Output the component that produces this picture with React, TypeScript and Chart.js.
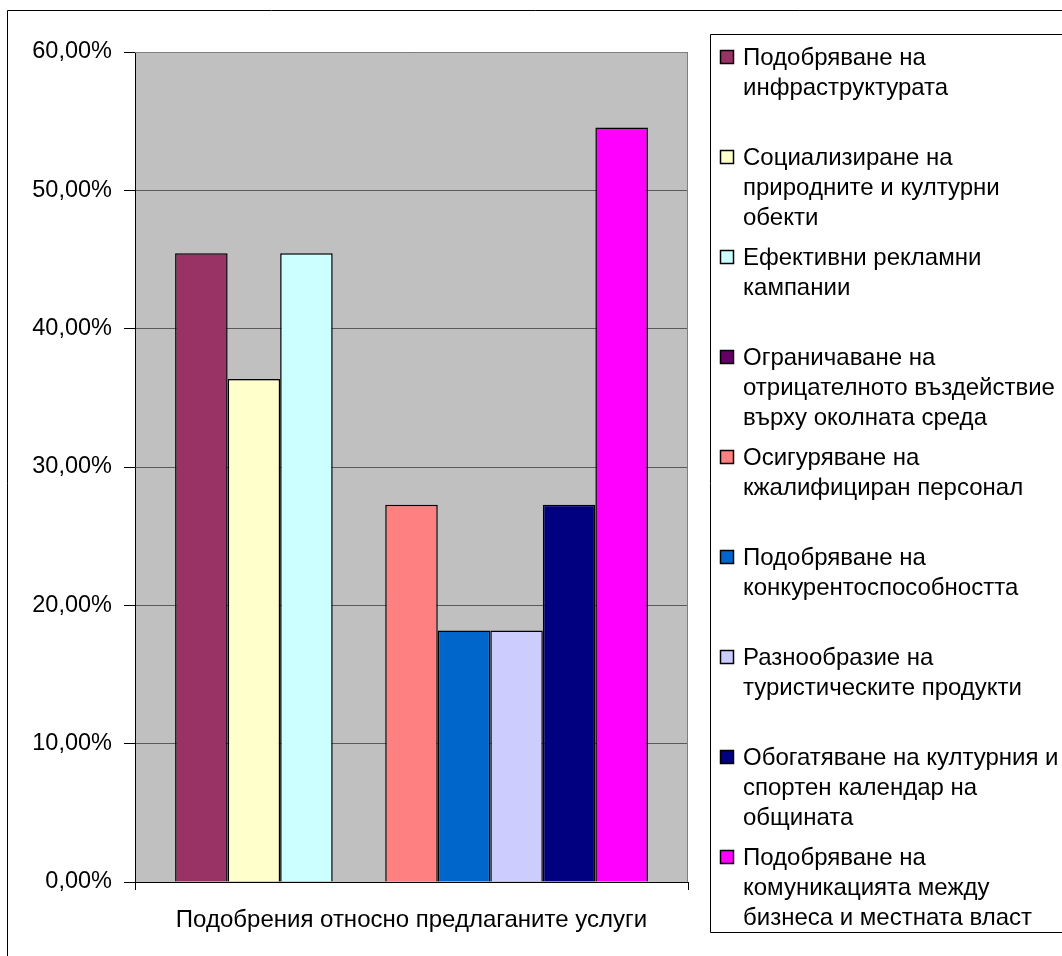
import React, { useEffect, useRef } from 'react';
import { Chart, registerables } from 'chart.js';

Chart.register(...registerables);

const categories = ['Подобрения относно предлаганите услуги'];

const seriesLegendLines = [
  ['Подобряване на', 'инфраструктурата'],
  ['Социализиране на', 'природните и културни', 'обекти'],
  ['Ефективни рекламни', 'кампании'],
  ['Ограничаване на', 'отрицателното въздействие', 'върху околната среда'],
  ['Осигуряване на', 'кжалифициран персонал'],
  ['Подобряване на', 'конкурентоспособността'],
  ['Разнообразие на', 'туристическите продукти'],
  ['Обогатяване на културния и', 'спортен календар на', 'общината'],
  ['Подобряване на', 'комуникацията между', 'бизнеса и местната власт'],
];

const seriesValues = [0.4545, 0.3636, 0.4545, 0, 0.2727, 0.1818, 0.1818, 0.2727, 0.5455];

const seriesColors = [
  '#993366',
  '#FFFFCC',
  '#CCFFFF',
  '#660066',
  '#FF8080',
  '#0066CC',
  '#CCCCFF',
  '#000080',
  '#FF00FF',
];

const yTickValues = [0, 0.1, 0.2, 0.3, 0.4, 0.5, 0.6];

const FONT = '"Liberation Sans", Arial, sans-serif';

const formatPct = (v: number) => (v * 100).toFixed(2).replace('.', ',') + '%';

const chromePlugin = {
  id: 'excelChrome',
  beforeDraw(chart: any) {
    const { ctx, chartArea: a } = chart;
    ctx.save();
    ctx.fillStyle = '#FFFFFF';
    ctx.fillRect(0, 0, chart.width, chart.height);
    ctx.fillStyle = '#C0C0C0';
    ctx.fillRect(a.left, a.top, a.right - a.left, a.bottom - a.top);
    ctx.restore();
  },
  afterDraw(chart: any) {
    const { ctx, chartArea: a } = chart;
    ctx.save();
    // plot area border top/right
    ctx.strokeStyle = '#808080';
    ctx.lineWidth = 1;
    ctx.beginPath();
    ctx.moveTo(a.left, a.top + 0.5);
    ctx.lineTo(a.right - 0.5, a.top + 0.5);
    ctx.lineTo(a.right - 0.5, a.bottom);
    ctx.stroke();

    // outer chart border
    ctx.strokeStyle = '#000000';
    ctx.beginPath();
    ctx.rect(7.5, 10.5, 1200, 1200);
    ctx.stroke();

    // legend box
    const lx = 710.5;
    const ly = 34.5;
    ctx.beginPath();
    ctx.rect(lx, ly, 600, 932 - 34);
    ctx.stroke();

    ctx.font = `24px ${FONT}`;
    ctx.textBaseline = 'alphabetic';
    ctx.textAlign = 'left';
    seriesLegendLines.forEach((lines, i) => {
      const top = 50 + i * 100;
      ctx.fillStyle = seriesColors[i];
      ctx.fillRect(720, top, 13, 13);
      ctx.strokeStyle = '#000';
      ctx.lineWidth = 1.5;
      ctx.strokeRect(720.5, top + 0.5, 13, 13);
      ctx.fillStyle = '#000';
      lines.forEach((t, j) => {
        ctx.fillText(t, 743, top + 15 + j * 30);
      });
    });
    ctx.restore();
  },
};

export default function App() {
  const ref = useRef<HTMLCanvasElement | null>(null);

  useEffect(() => {
    if (!ref.current) return;
    const chart = new Chart(ref.current, {
      type: 'bar',
      data: {
        labels: categories,
        datasets: seriesValues.map((v, i) => ({
          label: seriesLegendLines[i].join(' '),
          data: [v],
          backgroundColor: seriesColors[i],
          borderColor: '#000000',
          borderWidth: 1.5,
          borderSkipped: 'start' as const,
          categoryPercentage: 0.855,
          barPercentage: 1,
        })),
      },
      options: {
        animation: false,
        responsive: false,
        devicePixelRatio: 1,
        layout: { padding: { left: 0, top: 52, right: 374, bottom: 0 } },
        plugins: {
          legend: { display: false },
          tooltip: { enabled: false },
          title: { display: false },
        },
        scales: {
          x: {
            offset: true,
            grid: {
              display: true,
              offset: true,
              drawOnChartArea: false,
              drawTicks: true,
              tickLength: 8,
              color: '#000000',
              tickColor: '#000000',
            },
            border: { display: true, color: '#000000', width: 1 },
            ticks: {
              font: { family: FONT, size: 24 },
              color: '#000000',
              padding: 16,
              maxRotation: 0,
              minRotation: 0,
            },
            afterFit(s: any) {
              s.height = 74;
            },
          },
          y: {
            min: 0,
            max: 0.6,
            afterBuildTicks(s: any) {
              s.ticks = yTickValues.map((v) => ({ value: v }));
            },
            ticks: {
              callback: (v: any) => formatPct(Number(v)),
              font: { family: FONT, size: 23.5 },
              color: '#000000',
              padding: 12,
            },
            grid: {
              color: '#5a5a5a',
              tickColor: '#000000',
              tickLength: 11,
              lineWidth: 1,
            },
            border: { display: true, color: '#000000', width: 1 },
            afterFit(s: any) {
              s.width = 135;
            },
          },
        },
      },
      plugins: [chromePlugin],
    });
    return () => chart.destroy();
  }, []);

  return (
    <div style={{ position: 'absolute', left: 0, top: 0, width: 1062, height: 956 }}>
      <canvas ref={ref} width={1062} height={956} style={{ display: 'block' }} />
    </div>
  );
}
